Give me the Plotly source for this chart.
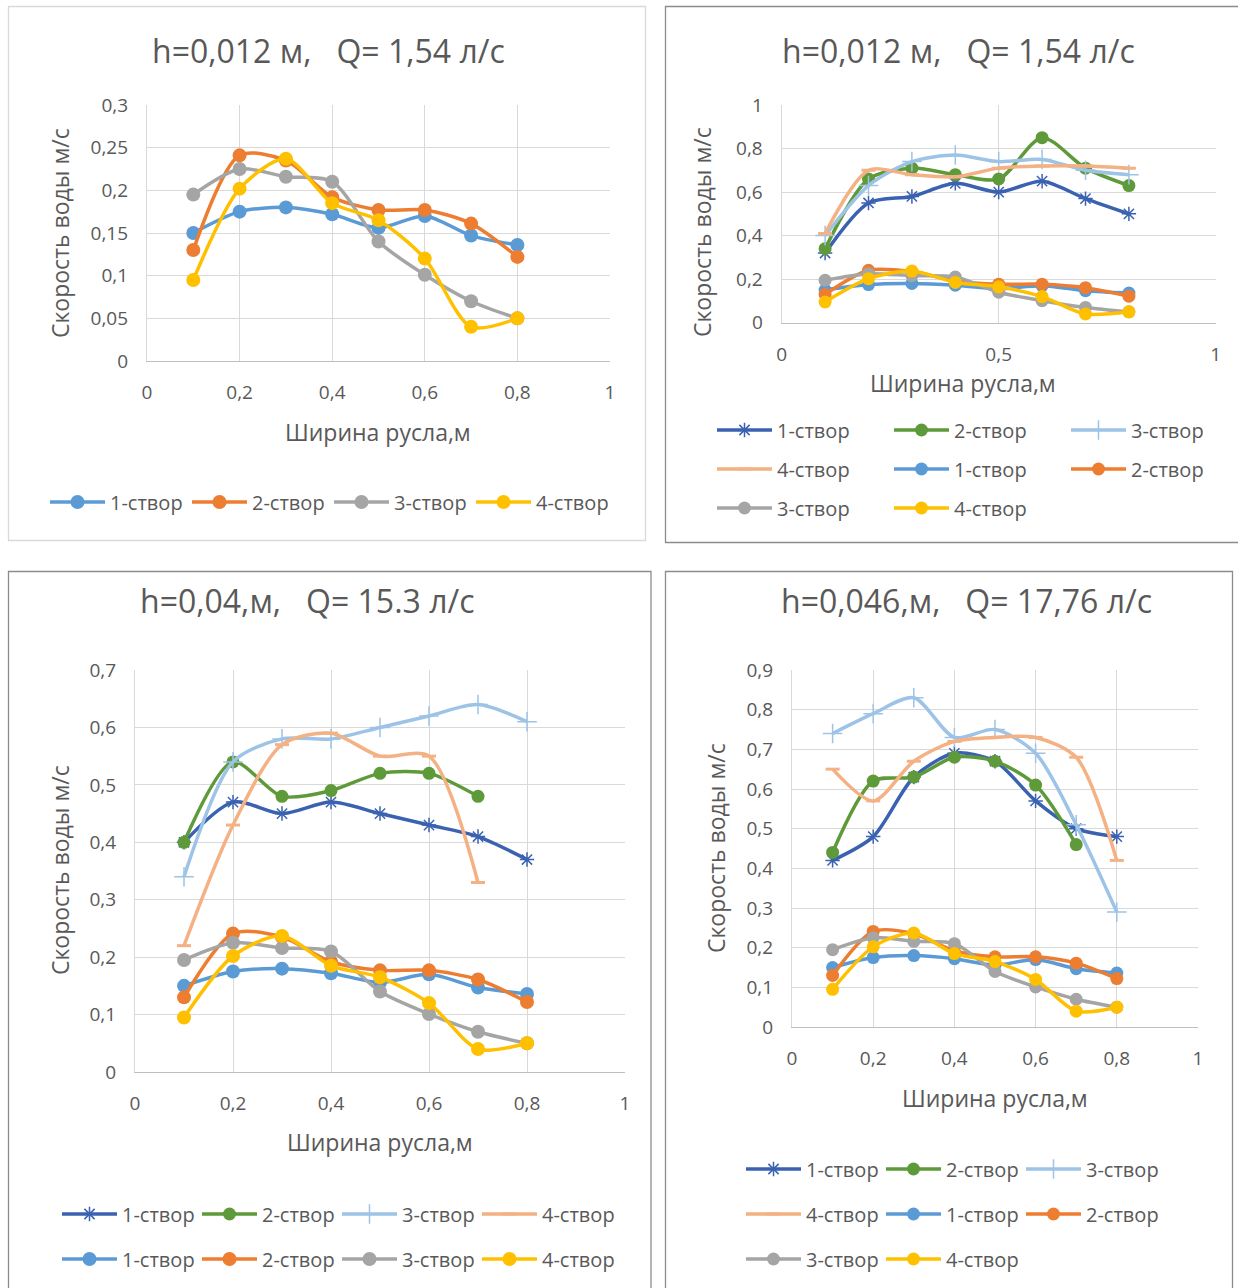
import plotly.graph_objects as go

W, H = 1238, 1288

# ---------------- data ----------------
x_vals = [0.1, 0.2, 0.3, 0.4, 0.5, 0.6, 0.7, 0.8]
x_vals7 = [0.1, 0.2, 0.3, 0.4, 0.5, 0.6, 0.7]

# lower group (h=0,012 m) – same in all panels
low_1 = [0.15, 0.175, 0.18, 0.172, 0.156, 0.17, 0.147, 0.136]
low_2 = [0.13, 0.241, 0.235, 0.192, 0.177, 0.177, 0.161, 0.122]
low_3 = [0.195, 0.225, 0.216, 0.21, 0.14, 0.101, 0.07, 0.05]
low_4 = [0.095, 0.202, 0.237, 0.185, 0.165, 0.12, 0.04, 0.05]

# top-right panel upper group
tr_1 = [0.32, 0.55, 0.58, 0.64, 0.60, 0.65, 0.57, 0.50]
tr_2 = [0.34, 0.66, 0.71, 0.68, 0.66, 0.85, 0.71, 0.63]
tr_3 = [0.40, 0.63, 0.74, 0.77, 0.74, 0.75, 0.70, 0.68]
tr_4 = [0.41, 0.70, 0.68, 0.67, 0.71, 0.72, 0.72, 0.71]

# bottom-left panel upper group (h=0,04)
bl_1 = [0.40, 0.47, 0.45, 0.47, 0.45, 0.43, 0.41, 0.37]
bl_2 = [0.40, 0.54, 0.48, 0.49, 0.52, 0.52, 0.48]
bl_3 = [0.34, 0.54, 0.58, 0.58, 0.60, 0.62, 0.64, 0.61]
bl_4 = [0.22, 0.43, 0.57, 0.59, 0.55, 0.55, 0.33]

# bottom-right panel upper group (h=0,046)
br_1 = [0.42, 0.48, 0.63, 0.69, 0.67, 0.57, 0.50, 0.48]
br_2 = [0.44, 0.62, 0.63, 0.68, 0.67, 0.61, 0.46]
br_3 = [0.74, 0.79, 0.83, 0.73, 0.75, 0.69, 0.51, 0.29]
br_4 = [0.65, 0.57, 0.67, 0.72, 0.73, 0.73, 0.68, 0.42]

NB = "\u00a0"
titles = ["h=0,012 м," + NB * 3 + "Q= 1,54 л/с", "h=0,012 м," + NB * 3 + "Q= 1,54 л/с",
          "h=0,04,м," + NB * 3 + "Q= 15.3 л/с", "h=0,046,м," + NB * 3 + "Q= 17,76 л/с"]
y_title = "Скорость воды м/с"
x_title = "Ширина русла,м"
names = ["1-створ", "2-створ", "3-створ", "4-створ"]

x_ticks_a = [0, 0.2, 0.4, 0.6, 0.8, 1]
x_text_a = ["0", "0,2", "0,4", "0,6", "0,8", "1"]
x_ticks_b = [0, 0.5, 1]
x_text_b = ["0", "0,5", "1"]
y_ticks_1 = [0, 0.05, 0.1, 0.15, 0.2, 0.25, 0.3]
y_text_1 = ["0", "0,05", "0,1", "0,15", "0,2", "0,25", "0,3"]
y_ticks_2 = [0, 0.2, 0.4, 0.6, 0.8, 1]
y_text_2 = ["0", "0,2", "0,4", "0,6", "0,8", "1"]
y_ticks_3 = [0, 0.1, 0.2, 0.3, 0.4, 0.5, 0.6, 0.7]
y_text_3 = ["0", "0,1", "0,2", "0,3", "0,4", "0,5", "0,6", "0,7"]
y_ticks_4 = [0, 0.1, 0.2, 0.3, 0.4, 0.5, 0.6, 0.7, 0.8, 0.9]
y_text_4 = ["0", "0,1", "0,2", "0,3", "0,4", "0,5", "0,6", "0,7", "0,8", "0,9"]

# ---------------- styles ----------------
FONT = "Open Sans"
TXT = "#595959"
GRID = "#D9D9D9"
C_LOW = ["#5B9BD5", "#ED7D31", "#A5A5A5", "#FFC000"]
C_UP = ["#3A62B0", "#5E9A3A", "#9DC3E6", "#F4B183"]


def px(x):
    return x / W


def py(y):
    return 1 - y / H


fig = go.Figure()


def add_low(ax, legs, msize=13):
    for i, (vals, c) in enumerate(zip([low_1, low_2, low_3, low_4], C_LOW)):
        fig.add_trace(go.Scatter(
            x=x_vals, y=vals, name=names[i], mode="lines+markers",
            line=dict(color=c, width=3.5, shape="spline", smoothing=0.8),
            marker=dict(color=c, size=msize, symbol="circle"),
            xaxis="x" + ax, yaxis="y" + ax, legend=legs[i]))


def add_up(ax, data, legs):
    syms = ["asterisk-open", "circle", "cross-thin-open", "line-ew-open"]
    sizes = [12, 13, 14, 10]
    for i, (xs, vals) in enumerate(data):
        c = C_UP[i]
        mk = dict(color=c, size=sizes[i], symbol=syms[i])
        if i in (0, 2, 3):
            mk["line"] = dict(color=c, width=1.5 if i != 3 else 3)
        fig.add_trace(go.Scatter(
            x=xs, y=vals, name=names[i], mode="lines+markers",
            line=dict(color=c, width=3.5, shape="spline", smoothing=0.8),
            marker=mk, xaxis="x" + ax, yaxis="y" + ax, legend=legs[i]))


# panel 1 (top-left): only low series
add_low("", ["legend"] * 4, msize=14)
# panel 2 (top-right)
add_up("2", [(x_vals, tr_1), (x_vals, tr_2), (x_vals, tr_3), (x_vals, tr_4)],
       ["legend2", "legend2", "legend2", "legend3"])
add_low("2", ["legend3", "legend3", "legend4", "legend4"], msize=13)
# panel 3 (bottom-left)
add_up("3", [(x_vals, bl_1), (x_vals7, bl_2), (x_vals, bl_3), (x_vals7, bl_4)],
       ["legend5"] * 4)
add_low("3", ["legend6"] * 4, msize=14)
# panel 4 (bottom-right)
add_up("4", [(x_vals, br_1), (x_vals7, br_2), (x_vals, br_3), (x_vals, br_4)],
       ["legend7", "legend7", "legend7", "legend8"])
add_low("4", ["legend8", "legend8", "legend9", "legend9"], msize=13)

# ---------------- axes ----------------
panels = [
    ("", 147, 610, 105, 361, y_ticks_1, y_text_1, [0, 0.3], x_ticks_a, x_text_a),
    ("2", 781.7, 1215.7, 105, 322.7, y_ticks_2, y_text_2, [0, 1], x_ticks_b, x_text_b),
    ("3", 135, 625, 670, 1072, y_ticks_3, y_text_3, [0, 0.7], x_ticks_a, x_text_a),
    ("4", 792, 1198, 670, 1027, y_ticks_4, y_text_4, [0, 0.9], x_ticks_a, x_text_a),
]
layout = {}
for sfx, x0, x1, yt, yb, ytv, ytt, yr, xtv, xtt in panels:
    layout["xaxis" + sfx] = dict(
        domain=[px(x0), px(x1)], range=[0, 1], anchor="y" + sfx,
        tickvals=xtv, ticktext=xtt, showgrid=True, gridcolor=GRID, gridwidth=1.3,
        zeroline=False, showline=True, linecolor="#BFBFBF", linewidth=1.3,
        mirror=False, ticks="outside", ticklen=14, tickcolor="rgba(0,0,0,0)",
        tickfont=dict(family=FONT, size=19, color=TXT), fixedrange=True, automargin=False)
    layout["yaxis" + sfx] = dict(
        domain=[py(yb), py(yt)], range=yr, anchor="x" + sfx,
        tickvals=ytv, ticktext=ytt, showgrid=True, gridcolor=GRID, gridwidth=1.3,
        zeroline=False, showline=True, linecolor=GRID, linewidth=1.3,
        ticks="outside", ticklen=14, tickcolor="rgba(0,0,0,0)",
        tickfont=dict(family=FONT, size=19, color=TXT), fixedrange=True, automargin=False)

# ---------------- annotations ----------------
ann = []
title_pos = [(328, 50), (958, 50), (307, 600), (966, 600)]
ytitle_pos = [(60, 233), (702, 232), (60, 870), (716, 848)]
xtitle_pos = [(378, 432), (963, 383), (380, 1142), (995, 1098)]
for t, (tx, ty) in zip(titles, title_pos):
    ann.append(dict(text=t, x=px(tx), y=py(ty), xref="paper", yref="paper",
                    showarrow=False, xanchor="center", yanchor="middle",
                    font=dict(family=FONT, size=32, color=TXT)))
for (tx, ty) in ytitle_pos:
    ann.append(dict(text=y_title, x=px(tx), y=py(ty), xref="paper", yref="paper",
                    showarrow=False, xanchor="center", yanchor="middle", textangle=-90,
                    font=dict(family=FONT, size=23, color=TXT)))
for (tx, ty) in xtitle_pos:
    ann.append(dict(text=x_title, x=px(tx), y=py(ty), xref="paper", yref="paper",
                    showarrow=False, xanchor="center", yanchor="middle",
                    font=dict(family=FONT, size=23, color=TXT)))

# ---------------- panel borders ----------------
shapes = [
    dict(type="rect", xref="paper", yref="paper", x0=px(8.5), x1=px(645.5),
         y0=py(540.5), y1=py(6.5), line=dict(color="#D9D9D9", width=1.3)),
    dict(type="rect", xref="paper", yref="paper", x0=px(665.5), x1=px(1245),
         y0=py(542.5), y1=py(6.5), line=dict(color="#8C8C8C", width=1.3)),
    dict(type="rect", xref="paper", yref="paper", x0=px(8.5), x1=px(651),
         y0=py(1300), y1=py(571.5), line=dict(color="#8C8C8C", width=1.3)),
    dict(type="rect", xref="paper", yref="paper", x0=px(665.5), x1=px(1232.5),
         y0=py(1300), y1=py(571.5), line=dict(color="#8C8C8C", width=1.3)),
]

# ---------------- legends ----------------
def leg(x, y, ew):
    return dict(orientation="h", x=px(x), y=py(y), xanchor="left", yanchor="middle",
                entrywidth=ew, entrywidthmode="pixels", itemwidth=55,
                font=dict(family=FONT, size=20, color=TXT),
                bgcolor="rgba(0,0,0,0)", borderwidth=0, traceorder="normal",
                itemclick=False, itemdoubleclick=False)

layout["legend"] = leg(45, 502, 72)
layout["legend2"] = leg(712, 430, 107)
layout["legend3"] = leg(712, 469, 107)
layout["legend4"] = leg(712, 508, 107)
layout["legend5"] = leg(57, 1214, 70)
layout["legend6"] = leg(57, 1259, 70)
layout["legend7"] = leg(741, 1169, 70)
layout["legend8"] = leg(741, 1214, 70)
layout["legend9"] = leg(741, 1259, 70)

fig.update_layout(
    width=W, height=H, margin=dict(l=0, r=0, t=0, b=0, autoexpand=False),
    paper_bgcolor="white", plot_bgcolor="white",
    annotations=ann, shapes=shapes, showlegend=True,
    font=dict(family=FONT, color=TXT), **layout)

fig.write_html("out.html")
